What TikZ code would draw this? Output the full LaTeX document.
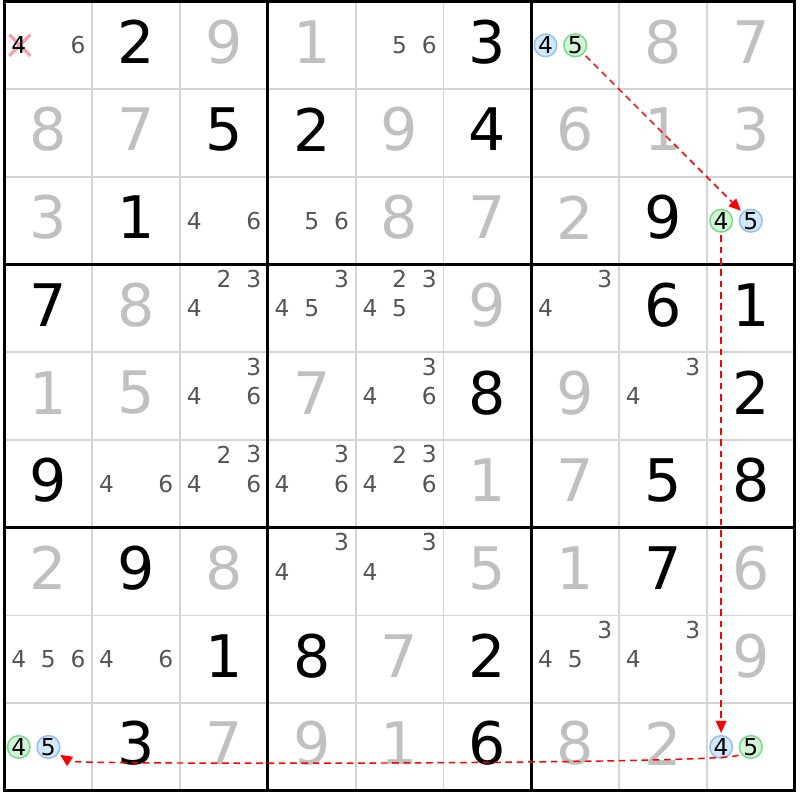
\documentclass[tikz,border=0pt]{standalone}
\usepackage{fontspec}
\setmainfont{DejaVu Sans}
\usetikzlibrary{arrows.meta,shapes.misc}

\definecolor{solvedgrey}{HTML}{C0C0C0}
\definecolor{candgrey}{HTML}{555555}
\definecolor{gridgrey}{HTML}{D4D4D4}
\definecolor{blueedge}{HTML}{90C0F0}
\definecolor{bluefill}{HTML}{D4E8FC}
\definecolor{greenedge}{HTML}{78D888}
\definecolor{greenfill}{HTML}{D4F4D8}
\definecolor{crosspink}{HTML}{F4A0A8}

\tikzset{
  given/.style={inner sep=0pt, font=\fontsize{44}{44}\selectfont},
  solved/.style={given, text=solvedgrey},
  cand/.style={inner sep=0pt, text=candgrey, font=\fontsize{17.5}{17.5}\selectfont},
  ringcand/.style={cand, text=black, circle, minimum size=16.5pt, line width=1.1pt},
  bluecand/.style={ringcand, draw=blueedge, fill=bluefill},
  greencand/.style={ringcand, draw=greenedge, fill=greenfill},
  xcross/.style={cross out, draw=crosspink, line width=2.4pt, inner sep=0pt, minimum size=13.5pt},
  thinline/.style={draw=gridgrey, line width=1.3pt},
  boxline/.style={draw=black, line width=2.3pt},
  link/.style={draw=red, line width=1.1pt, dash pattern=on 5pt off 3.5pt,
    -{Triangle[length=9pt,width=8pt]}, shorten >=1.5pt, shorten <=2pt}
}

\begin{document}
\begin{tikzpicture}[x=65.85pt, y=-65.775pt]
  \useasboundingbox (-0.0513,-0.0171) rectangle (9.0604,9.1049);

  \foreach \i in {1,2,4,5,7,8} {
    \draw[thinline] (\i,0) -- (\i,9);
    \draw[thinline] (0,\i) -- (9,\i);
  }
  \foreach \i in {0,3,6,9} {
    \draw[boxline] (\i,-0.017) -- (\i,9.017);
    \draw[boxline] (-0.017,\i) -- (9.017,\i);
  }

  \foreach \r/\c/\d in {1/2/2, 1/6/3, 2/3/5, 2/4/2, 2/6/4, 3/2/1, 3/8/9, 4/1/7, 4/8/6, 4/9/1,
      5/6/8, 5/9/2, 6/1/9, 6/8/5, 6/9/8, 7/2/9, 7/8/7, 8/3/1, 8/4/8, 8/6/2, 9/2/3, 9/6/6}
    \node[given] (v\r\c) at (\c-0.5,\r-0.54) {\d};

  \foreach \r/\c/\d in {1/3/9, 1/4/1, 1/8/8, 1/9/7, 2/1/8, 2/2/7, 2/5/9, 2/7/6, 2/8/1, 2/9/3,
      3/1/3, 3/5/8, 3/6/7, 3/7/2, 4/2/8, 4/6/9, 5/1/1, 5/2/5, 5/4/7, 5/7/9, 6/6/1, 6/7/7,
      7/1/2, 7/3/8, 7/6/5, 7/7/1, 7/9/6, 8/5/7, 8/9/9, 9/3/7, 9/4/9, 9/5/1, 9/7/8, 9/8/2}
    \node[solved] (v\r\c) at (\c-0.5,\r-0.54) {\d};

  \foreach \r/\c/\ds in {1/1/{6}, 1/5/{5,6}, 3/3/{4,6}, 3/4/{5,6}, 4/3/{2,3,4}, 4/4/{3,4,5},
      4/5/{2,3,4,5}, 4/7/{3,4}, 5/3/{3,4,6}, 5/5/{3,4,6}, 5/8/{3,4}, 6/2/{4,6},
      6/3/{2,3,4,6}, 6/4/{3,4,6}, 6/5/{2,3,4,6}, 7/4/{3,4}, 7/5/{3,4}, 8/1/{4,5,6},
      8/2/{4,6}, 8/7/{3,4,5}, 8/8/{3,4}}
    \foreach \k in \ds {
      \pgfmathsetmacro{\px}{\c-0.5+0.338*(mod(\k-1,3)-1)}
      \pgfmathsetmacro{\py}{\r-0.5+0.335*(int((\k-1)/3)-1)}
      \node[cand] (c\r\c\k) at (\px,\py) {\k};
    }

  \node[xcross] (x114) at (0.175,0.5) {};
  \node[cand, text=black] (c114) at (0.162,0.5) {4};

  \node[bluecand] (c174) at (6.162,0.5) {4};
  \node[greencand] (c175) at (6.5,0.5) {5};
  \node[greencand] (c394) at (8.162,2.5) {4};
  \node[bluecand] (c395) at (8.5,2.5) {5};
  \node[bluecand] (c994) at (8.162,8.5) {4};
  \node[greencand] (c995) at (8.5,8.5) {5};
  \node[greencand] (c914) at (0.162,8.5) {4};
  \node[bluecand] (c915) at (0.5,8.5) {5};

  \draw[link] (c175) -- (c395);
  \draw[link] (c394) -- (c994);
  \draw[link] (c995) .. controls +(-0.3,0.2) and +(0.3,0.2) .. (c915);

\end{tikzpicture}
\end{document}
